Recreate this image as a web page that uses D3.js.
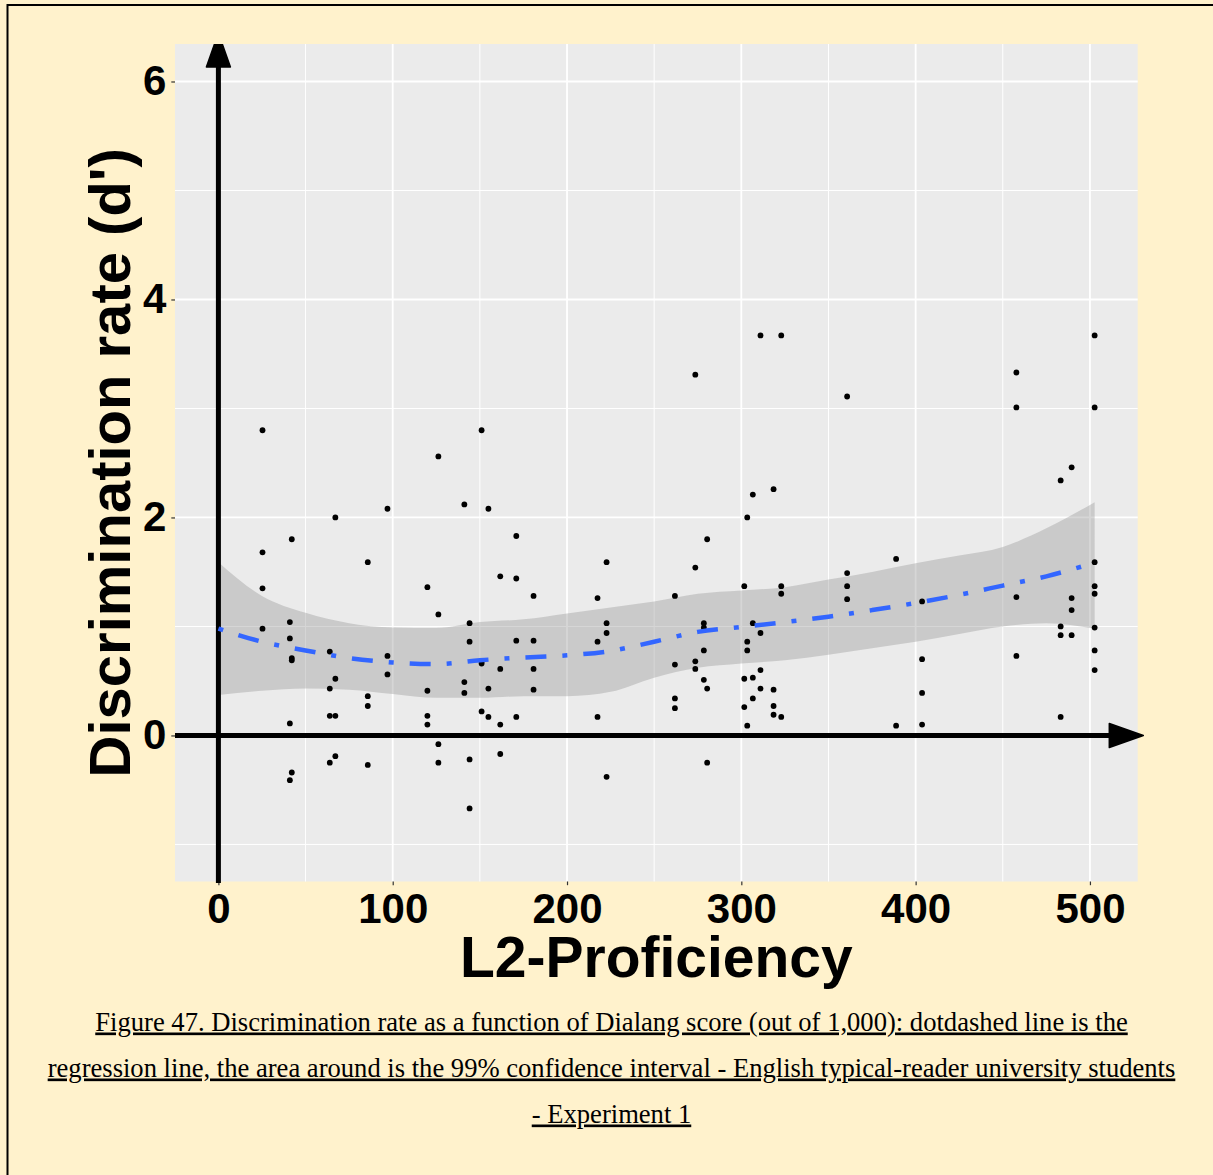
<!DOCTYPE html>
<html>
<head>
<meta charset="utf-8">
<script src="https://cdn.jsdelivr.net/npm/d3@7"></script>
<style>
  html, body { margin: 0; padding: 0; background: #FFF2CC; }
  svg { display: block; }
</style>
</head>
<body>
<svg id="chart" width="1213" height="1175"></svg>
<script>
// ---------------- data ----------------
const xTicks = [0, 100, 200, 300, 400, 500];
const yTicks = [0, 2, 4, 6];
const xMinor = [50, 150, 250, 350, 450];
const yMinor = [-1, 1, 3, 5];

// observed points: L2-Proficiency (x), d' (y)
const pointsX = [
  25.3, 25.3, 25.3, 25.3,
  42.1, 41, 41, 42.1, 42.1, 41, 42.1, 41,
  67.1, 63.9, 67.1, 63.9, 63.9, 67.1, 67.1, 63.9,
  97, 85.7, 97, 97, 85.7, 85.7, 85.7,
  126.2, 119.9, 126.2, 119.9, 119.9, 119.9, 126.2, 126.2,
  151, 141.1, 154.9, 161.7, 144.1, 144.1, 151, 151, 161.7, 141.1, 141.1, 154.9, 151, 154.9, 161.7, 144.1, 161.7, 144.1,
  170.9, 170.9, 180.8, 170.9, 180.8, 180.8, 180.8, 170.9,
  217.5, 222.7, 222.7, 222.7, 217.5, 217.5, 222.7,
  273.6, 273.6, 280.4, 261.9, 278.5, 278.5, 278.5, 273.6, 273.6, 278.5, 280.4, 261.9, 261.9, 261.9, 280.4,
  311, 322.9, 360.7, 306.6, 318.5, 303.4, 301.7, 322.9, 322.9, 306.6, 311, 303.4, 303.4, 311, 301.7, 306.6, 311, 318.5, 306.6, 301.7, 318.5, 318.5, 322.9, 303.4,
  360.7, 360.7, 360.7, 388.8, 388.8, 403.7, 403.7, 403.7, 403.7,
  457.8, 457.8, 457.8, 457.8, 483.2, 489.5, 489.5, 489.5, 483.2, 483.2, 489.5, 483.2,
  502.7, 502.7, 502.7, 502.7, 502.7, 502.7, 502.7, 502.7
];
const pointsY = [
  2.80, 1.68, 1.35, 0.98,
  1.80, 1.04, 0.89, 0.71, 0.69, 0.11, -0.34, -0.41,
  2.00, 0.77, 0.52, 0.43, 0.18, 0.18, -0.19, -0.25,
  2.08, 1.59, 0.73, 0.56, 0.36, 0.27, -0.27,
  2.56, 1.36, 1.11, 0.41, 0.18, 0.10, -0.08, -0.25,
  2.80, 2.12, 2.08, 1.46, 1.03, 0.86, 0.68, 0.66, 0.61, 0.49, 0.39, 0.43, 0.22, 0.17, 0.10, -0.22, -0.17, -0.67,
  1.83, 1.44, 1.28, 0.87, 0.87, 0.61, 0.42, 0.17,
  1.26, 1.59, 1.03, 0.94, 0.86, 0.17, -0.38,
  3.31, 1.54, 1.80, 1.28, 1.03, 0.99, 0.78, 0.68, 0.61, 0.51, 0.43, 0.65, 0.34, 0.25, -0.25,
  3.67, 3.67, 3.11, 2.21, 2.26, 2.00, 1.37, 1.37, 1.30, 1.03, 0.94, 0.86, 0.78, 0.60, 0.52, 0.53, 0.43, 0.42, 0.34, 0.26, 0.27, 0.19, 0.17, 0.09,
  1.49, 1.37, 1.25, 1.62, 0.09, 1.23, 0.70, 0.39, 0.10,
  3.33, 3.01, 1.27, 0.73, 2.34, 2.46, 1.26, 1.15, 1.00, 0.92, 0.92, 0.17,
  3.67, 3.01, 1.59, 1.37, 1.30, 0.99, 0.78, 0.60
];

// regression (loess) fit and 99% confidence band
const fitX  = [0, 25, 50, 75, 100, 125, 150, 175, 200, 225, 250, 275, 300, 325, 350, 375, 400, 425, 450, 475, 502.7];
const fitY  = [0.98, 0.86, 0.78, 0.71, 0.67, 0.655, 0.69, 0.715, 0.735, 0.775, 0.86, 0.95, 0.995, 1.04, 1.09, 1.15, 1.215, 1.29, 1.375, 1.46, 1.585];
const ciUp  = [1.59, 1.28, 1.125, 1.03, 0.99, 0.985, 1.04, 1.065, 1.12, 1.175, 1.23, 1.30, 1.33, 1.36, 1.43, 1.50, 1.58, 1.65, 1.73, 1.90, 2.14];
const ciLow = [0.37, 0.41, 0.43, 0.42, 0.38, 0.345, 0.345, 0.36, 0.36, 0.40, 0.53, 0.62, 0.66, 0.69, 0.74, 0.80, 0.86, 0.93, 1.00, 1.03, 0.98];

const xTitle = "L2-Proficiency";
const yTitle = "Discrimination rate (d')";
const captionLines = [
  "Figure 47. Discrimination rate as a function of Dialang score (out of 1,000): dotdashed line is the",
  "regression line, the area around is the 99% confidence interval - English typical-reader university students",
  "- Experiment 1"
];

// ---------------- layout ----------------
const panel = { left: 175, right: 1137.7, top: 44, bottom: 881.5 };
const svg = d3.select("#chart");
const sans = "'Liberation Sans', Arial, Helvetica, sans-serif";
const serif = "'Liberation Serif', 'Times New Roman', serif";

const x = d3.scaleLinear().domain([-24.9, 527.4]).range([panel.left, panel.right]);
const y = d3.scaleLinear().domain([-1.34, 6.344]).range([panel.bottom, panel.top]);

// page background + frame
svg.append("rect").attr("width", 1213).attr("height", 1175).attr("fill", "#FFF2CC");
svg.append("line").attr("x1", 7).attr("x2", 1213).attr("y1", 5).attr("y2", 5)
   .attr("stroke", "#000").attr("stroke-width", 2);
svg.append("line").attr("x1", 7.5).attr("x2", 7.5).attr("y1", 4).attr("y2", 1175)
   .attr("stroke", "#000").attr("stroke-width", 2);

// panel
svg.append("rect")
  .attr("x", panel.left).attr("y", panel.top)
  .attr("width", panel.right - panel.left).attr("height", panel.bottom - panel.top)
  .attr("fill", "#EBEBEB");

const grid = svg.append("g");
grid.selectAll(".ymin").data(yMinor).join("line")
  .attr("x1", panel.left).attr("x2", panel.right)
  .attr("y1", d => y(d)).attr("y2", d => y(d))
  .attr("stroke", "#FFFFFF").attr("stroke-width", 1);
grid.selectAll(".xmin").data(xMinor).join("line")
  .attr("y1", panel.top).attr("y2", panel.bottom)
  .attr("x1", d => x(d)).attr("x2", d => x(d))
  .attr("stroke", "#FFFFFF").attr("stroke-width", 1);
grid.selectAll(".ymaj").data(yTicks).join("line")
  .attr("x1", panel.left).attr("x2", panel.right)
  .attr("y1", d => y(d)).attr("y2", d => y(d))
  .attr("stroke", "#FFFFFF").attr("stroke-width", 1.8);
grid.selectAll(".xmaj").data(xTicks).join("line")
  .attr("y1", panel.top).attr("y2", panel.bottom)
  .attr("x1", d => x(d)).attr("x2", d => x(d))
  .attr("stroke", "#FFFFFF").attr("stroke-width", 1.8);

// axes (ticks + labels)
const yAxis = svg.append("g").attr("transform", `translate(${panel.left},0)`)
  .call(d3.axisLeft(y).tickValues(yTicks).tickSize(3.7).tickPadding(5).tickFormat(d3.format("d")));
const xAxis = svg.append("g").attr("transform", `translate(0,${panel.bottom})`)
  .call(d3.axisBottom(x).tickValues(xTicks).tickSize(3.7).tickPadding(8).tickFormat(d3.format("d")));
[yAxis, xAxis].forEach(a => {
  a.select(".domain").remove();
  a.selectAll(".tick line").attr("stroke", "#333333").attr("stroke-width", 1.2);
  a.selectAll(".tick text").attr("fill", "#000").attr("font-family", sans)
    .attr("font-weight", "bold").attr("font-size", 42);
});

// ribbon
const band = fitX.map((v, i) => ({ x: v, lo: ciLow[i], hi: ciUp[i], f: fitY[i] }));
svg.append("path").datum(band)
  .attr("fill", "#999999").attr("fill-opacity", 0.4)
  .attr("d", d3.area().x(d => x(d.x)).y0(d => y(d.lo)).y1(d => y(d.hi)).curve(d3.curveMonotoneX));

// points
svg.append("g").selectAll("circle").data(pointsX.map((v, i) => [v, pointsY[i]])).join("circle")
  .attr("cx", d => x(d[0])).attr("cy", d => y(d[1])).attr("r", 2.9).attr("fill", "#000");

// arrows (axes through origin)
const arrowG = svg.append("g");
const x0 = x(0), y0 = y(0);
const headLen = 34, headHalf = 12;
const hTip = panel.right + 5.6;
arrowG.append("line").attr("x1", panel.left).attr("x2", hTip - headLen + 2)
  .attr("y1", y0).attr("y2", y0).attr("stroke", "#000").attr("stroke-width", 5);
arrowG.append("polygon")
  .attr("points", `${hTip - headLen},${y0 - headHalf} ${hTip},${y0} ${hTip - headLen},${y0 + headHalf}`)
  .attr("fill", "#000").attr("stroke", "#000").attr("stroke-width", 1.5).attr("stroke-linejoin", "round");

svg.append("clipPath").attr("id", "topClip").append("rect")
  .attr("x", 0).attr("y", panel.top).attr("width", 1213).attr("height", 1175);
const vG = svg.append("g").attr("clip-path", "url(#topClip)");
const vTip = panel.top - 11;
vG.append("line").attr("x1", x0).attr("x2", x0).attr("y1", panel.bottom + 1.5).attr("y2", vTip + headLen - 2)
  .attr("stroke", "#000").attr("stroke-width", 5);
vG.append("polygon")
  .attr("points", `${x0 - headHalf},${vTip + headLen} ${x0},${vTip} ${x0 + headHalf},${vTip + headLen}`)
  .attr("fill", "#000").attr("stroke", "#000").attr("stroke-width", 1.5).attr("stroke-linejoin", "round");

// regression line
svg.append("path").datum(band)
  .attr("fill", "none").attr("stroke", "#3366FF").attr("stroke-width", 4.5)
  .attr("stroke-dasharray", "5,16,21,16")
  .attr("d", d3.line().x(d => x(d.x)).y(d => y(d.f)).curve(d3.curveMonotoneX));

// titles
svg.append("text").text(xTitle)
  .attr("x", (panel.left + panel.right) / 2).attr("y", 977)
  .attr("text-anchor", "middle").attr("font-family", sans).attr("font-weight", "bold")
  .attr("font-size", 57).attr("fill", "#000");
svg.append("text").text(yTitle)
  .attr("transform", `translate(130,${(panel.top + panel.bottom) / 2}) rotate(-90)`)
  .attr("text-anchor", "middle").attr("font-family", sans).attr("font-weight", "bold")
  .attr("font-size", 58).attr("fill", "#000");

// caption
const capBase = [1030.5, 1076.5, 1122.5];
const cap = svg.append("g");
const capTexts = cap.selectAll("text").data(captionLines).join("text")
  .text(d => d)
  .attr("x", 611.5).attr("y", (d, i) => capBase[i])
  .attr("text-anchor", "middle").attr("font-family", serif)
  .attr("font-size", 24).attr("fill", "#000")
  .attr("text-decoration", "underline");
// fit first line's width to the reference width
const w0 = capTexts.nodes()[0].getComputedTextLength();
const fs = 24 * 1033 / w0;
capTexts.attr("font-size", fs);
</script>
</body>
</html>
